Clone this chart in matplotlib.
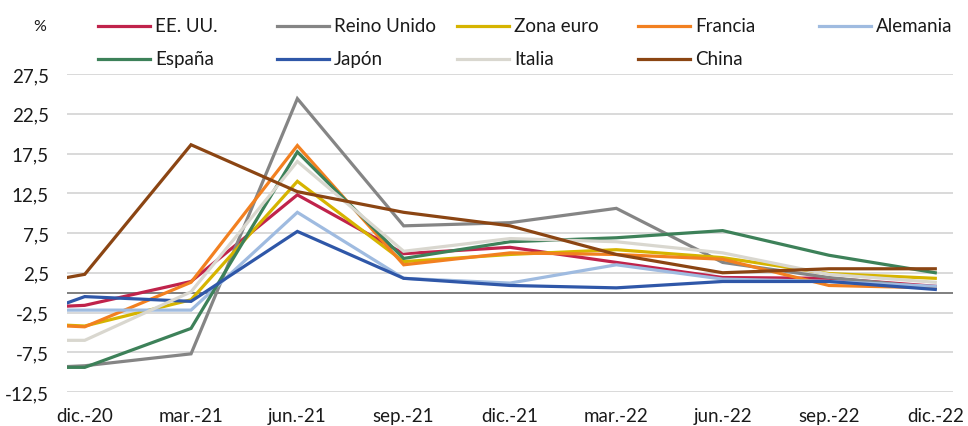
import matplotlib.pyplot as plt
from matplotlib.lines import Line2D

plt.rcParams['font.family'] = ['Lato', 'DejaVu Sans']

# months relative to dic.-20 (first point sits half a month earlier)
months = [-0.5, 0, 3, 6, 9, 12, 15, 18, 21, 24]
tick_pos = [0, 3, 6, 9, 12, 15, 18, 21, 24]
tick_labels = ['dic.-20', 'mar.-21', 'jun.-21', 'sep.-21', 'dic.-21',
               'mar.-22', 'jun.-22', 'sep.-22', 'dic.-22']

ee_uu = [-1.7, -1.6, 1.4, 12.3, 4.9, 5.7, 3.8, 1.9, 1.8, 0.8]
reino_unido = [-9.3, -9.2, -7.7, 24.4, 8.4, 8.8, 10.6, 3.8, 1.9, 0.6]
zona_euro = [-4.1, -4.2, -0.9, 14.0, 3.9, 4.8, 5.4, 4.4, 2.4, 1.8]
francia = [-4.2, -4.3, 1.3, 18.5, 3.5, 5.0, 4.8, 4.2, 0.9, 0.6]
alemania = [-2.2, -2.2, -2.2, 10.1, 1.8, 1.2, 3.5, 1.7, 1.4, 0.8]
espana = [-9.4, -9.4, -4.5, 17.7, 4.3, 6.4, 6.9, 7.8, 4.7, 2.5]
japon = [-1.3, -0.5, -1.1, 7.7, 1.8, 0.9, 0.6, 1.4, 1.4, 0.4]
italia = [-6.0, -6.0, 0.1, 16.5, 5.2, 6.8, 6.4, 5.0, 2.3, 1.3]
china = [1.9, 2.3, 18.6, 12.7, 10.1, 8.4, 4.8, 2.5, 3.0, 3.0]

series = [
    ('EE. UU.', ee_uu, '#c0234b'),
    ('Reino Unido', reino_unido, '#858585'),
    ('Zona euro', zona_euro, '#d6b400'),
    ('Francia', francia, '#f28020'),
    ('Alemania', alemania, '#9fbbe0'),
    ('España', espana, '#3d8159'),
    ('Japón', japon, '#2f57a8'),
    ('Italia', italia, '#d9d7cf'),
    ('China', china, '#8b4513'),
]

yticks = [-12.5, -7.5, -2.5, 2.5, 7.5, 12.5, 17.5, 22.5, 27.5]

fig = plt.figure(figsize=(9.68, 4.27), dpi=100)
ax = fig.add_axes([67 / 968, 1 - 393 / 427, 886 / 968, 318 / 427])

for y in yticks:
    ax.axhline(y, color='#d9d9d9', lw=1.4, zorder=0)
ax.axhline(0, color='#7f7f7f', lw=1.4, zorder=1)

lines = []
for name, vals, col in series:
    ln, = ax.plot(months, vals, color=col, lw=2.3, label=name,
                  solid_joinstyle='miter', zorder=2)
    lines.append(ln)

ax.set_xlim(-0.5, 24.5)
ax.set_ylim(-12.5, 27.5)
ax.set_xticks(tick_pos)
ax.set_xticklabels(tick_labels)
ax.set_yticks(yticks)
ax.set_yticklabels([f'{v:.1f}'.replace('.', ',') for v in yticks])
ax.tick_params(length=0, labelsize=13.5, colors='#1a1a1a')
ax.tick_params(axis='x', pad=11)
ax.tick_params(axis='y', pad=13)
for s in ax.spines.values():
    s.set_visible(False)

fig.text(40 / 968, 1 - 27 / 427, '%', ha='center', va='center',
         fontsize=11.5, color='#1a1a1a')

# legend: 5 columns x 2 rows, placed like the source
col_x = [98, 277, 457, 638, 819]
row_y = [27, 60]
for i, ln in enumerate(lines):
    r, c = divmod(i, 5)
    x0 = col_x[c]
    y0 = 1 - row_y[r] / 427
    fig.add_artist(Line2D([x0 / 968, (x0 + 52) / 968], [y0, y0],
                          color=ln.get_color(), lw=2.3))
    fig.text((x0 + 57) / 968, y0, ln.get_label(), ha='left', va='center',
             fontsize=13.5, color='#1a1a1a')

fig.savefig('out.png', dpi=100)
